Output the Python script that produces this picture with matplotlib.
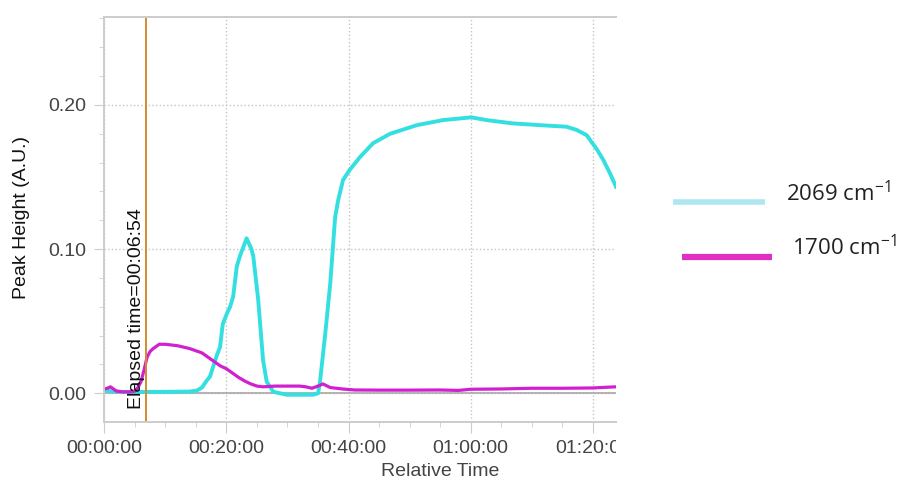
import matplotlib
matplotlib.use('Agg')
import matplotlib.pyplot as plt
from matplotlib.ticker import MultipleLocator, FuncFormatter
from matplotlib.lines import Line2D
from matplotlib.transforms import Bbox, TransformedBbox

plt.rcParams['font.family'] = ['Liberation Sans', 'DejaVu Sans']
plt.rcParams['mathtext.default'] = 'regular'

# time in minutes, peak heights in A.U.
t_2069 = [0, 1, 3, 6, 10, 14, 15.2, 16.0, 16.8, 17.3, 18.4, 18.95, 19.4, 20.05, 20.6,
          21.1, 21.7, 22.2, 23.0, 23.3, 24.1, 24.4, 25.2, 26.0, 26.6, 27.7, 29.9, 32.0,
          34.2, 35.0, 35.3, 36.2, 37.0, 37.8, 38.3, 39.1, 40.2, 41.9, 44.0, 46.8, 51.2,
          55.5, 60.1, 62.6, 66.9, 71.3, 75.7, 77.4, 79.0, 80.7, 81.7, 82.8, 83.8]
h_2069 = [0.002, 0.0015, 0.001, 0.001, 0.001, 0.0012, 0.002, 0.004, 0.009, 0.0115, 0.026,
          0.032, 0.048, 0.055, 0.060, 0.067, 0.088, 0.095, 0.104, 0.1075, 0.100, 0.095,
          0.065, 0.023, 0.008, 0.001, -0.001, -0.001, -0.001, 0.0, 0.007, 0.042, 0.076,
          0.122, 0.134, 0.148, 0.155, 0.164, 0.1734, 0.180, 0.186, 0.1895, 0.1914, 0.1895,
          0.1872, 0.186, 0.1849, 0.1826, 0.179, 0.169, 0.162, 0.1527, 0.1433]

t_1700 = [0.0, 0.5, 1.0, 1.5, 2.0, 3.0, 4.0, 5.0, 5.5, 6.0, 6.5, 7.0, 7.5, 8.0, 9.0, 10.0,
          11.0, 12.0, 13.0, 14.0, 15.0, 16.0, 17.0, 18.0, 19.0, 20.0, 21.0, 22.0, 23.0,
          24.0, 25.0, 26.0, 28.0, 30.0, 32.0, 33.0, 34.0, 35.0, 35.8, 37.0, 39.0, 41.0,
          45.0, 50.0, 55.0, 58.0, 60.0, 65.0, 70.0, 75.0, 80.0, 83.8]
h_1700 = [0.003, 0.0035, 0.0045, 0.003, 0.0015, 0.001, 0.001, 0.0015, 0.004, 0.008, 0.016,
          0.025, 0.029, 0.031, 0.034, 0.034, 0.0335, 0.033, 0.032, 0.031, 0.0295, 0.028,
          0.025, 0.022, 0.019, 0.017, 0.014, 0.011, 0.0085, 0.0065, 0.005, 0.0045, 0.005,
          0.005, 0.005, 0.0045, 0.0035, 0.005, 0.0065, 0.004, 0.003, 0.0023, 0.0022,
          0.0022, 0.0023, 0.002, 0.0028, 0.003, 0.0035, 0.0035, 0.0037, 0.0045]

elapsed_min = 6.9   # 00:06:54
legend_labels = ['2069 cm$^{-1}$', '1700 cm$^{-1}$']


def hms(m, pos=None):
    s = int(round(m * 60))
    return '%02d:%02d:%02d' % (s // 3600, (s % 3600) // 60, s % 60)


fig = plt.figure(figsize=(9.03, 4.83), dpi=100)
W, H = 903, 483
ax = fig.add_axes([104.3 / W, 1 - 421.7 / H, (616 - 104.3) / W, (421.7 - 17) / H])

ax.plot(t_2069, h_2069, color='#33dfe0', lw=2.8, solid_joinstyle='round')
ax.plot(t_1700, h_1700, color='#d020d0', lw=2.3, solid_joinstyle='round')
ax.axhline(0, color='#a8a8a8', lw=1.2, zorder=1)
ax.axvline(elapsed_min, color='#d48a2c', lw=1.4)
ax.annotate('Elapsed time=' + hms(elapsed_min), xy=(elapsed_min, 0.0588),
            xytext=(-1, 0), textcoords='offset points', rotation=90,
            ha='right', va='center', fontsize=14, color='#111111')

ax.set_xlim(0, 83.8)
ax.set_ylim(-0.0197, 0.261)
ax.xaxis.set_major_locator(MultipleLocator(20))
ax.xaxis.set_minor_locator(MultipleLocator(5))
ax.xaxis.set_major_formatter(FuncFormatter(hms))
ax.yaxis.set_major_locator(MultipleLocator(0.1))
ax.yaxis.set_minor_locator(MultipleLocator(0.02))
ax.yaxis.set_major_formatter(FuncFormatter(lambda v, p: '%.2f' % v))

ax.grid(True, which='major', color='#c4c4c4', ls=':', lw=1.0)
ax.set_axisbelow(True)
for side in ['left', 'top', 'bottom']:
    ax.spines[side].set_color('#cccccc')
    ax.spines[side].set_linewidth(1.4)
ax.spines['right'].set_visible(False)

ax.tick_params(axis='x', which='major', length=8, color='#cccccc', pad=5,
               labelsize=14, labelcolor='#444444')
ax.tick_params(axis='x', which='minor', length=3.6, color='#cccccc')
ax.tick_params(axis='y', which='major', length=7, color='#cccccc', pad=6,
               labelsize=14, labelcolor='#444444')
ax.tick_params(axis='y', which='minor', length=3.6, color='#cccccc')

ax.set_xlabel('Relative Time', fontsize=14, color='#444444', va='center')
ax.xaxis.set_label_coords(0.656, -0.124)
ax.set_ylabel('Peak Height (A.U.)', fontsize=14, color='#111111', va='center')
ax.yaxis.set_label_coords(-0.161, 0.505)

# the last time label is cut at the right edge of the panel
fig.canvas.draw()
clip = TransformedBbox(Bbox([[0, 0], [616 / W, 1]]), fig.transFigure)
for lab in ax.get_xticklabels():
    lab.set_clip_box(clip)
    lab.set_clip_on(True)

# legend keys on the right
fig.add_artist(Line2D([673 / W, 765 / W], [1 - 201.7 / H] * 2, color='#aee6f2',
                      lw=4.0, solid_capstyle='butt'))
fig.add_artist(Line2D([682 / W, 772 / W], [1 - 256.7 / H] * 2, color='#e030c4',
                      lw=4.5, solid_capstyle='butt'))
fig.text(786 / W, 1 - 194 / H, legend_labels[0], fontsize=16, color='#222222',
         family=['Open Sans', 'DejaVu Sans'], va='center', ha='left')
fig.text(792 / W, 1 - 248 / H, legend_labels[1], fontsize=16, color='#222222',
         family=['Open Sans', 'DejaVu Sans'], va='center', ha='left')

fig.savefig('out.png', dpi=100)
